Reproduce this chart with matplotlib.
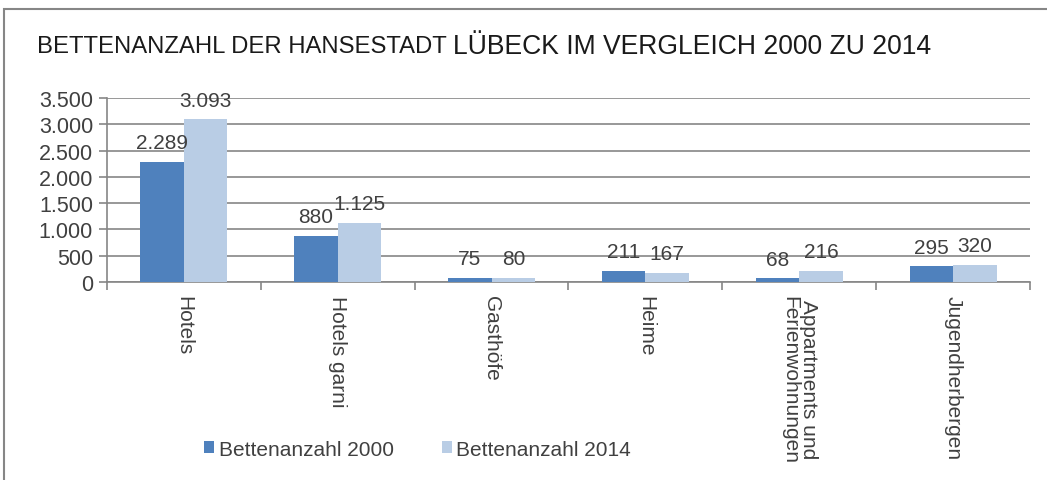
import matplotlib.pyplot as plt
import matplotlib.patches as mpatches
import numpy as np

# data
categories = ["Hotels", "Hotels garni", "Gasthöfe", "Heime",
              "Appartments und\nFerienwohnungen", "Jugendherbergen"]
beds_2000 = [2289, 880, 75, 211, 68, 295]
beds_2014 = [3093, 1125, 80, 167, 216, 320]
series_names = ["Bettenanzahl 2000", "Bettenanzahl 2014"]
yticks = [0, 500, 1000, 1500, 2000, 2500, 3000, 3500]

c2000 = "#4F81BD"
c2014 = "#B9CDE5"
grid_col = "#868686"
txt_col = "#404040"

plt.rcParams['font.family'] = ['Liberation Sans', 'DejaVu Sans']


def de_fmt(v):
    return f"{v:,}".replace(",", ".")


fig = plt.figure(figsize=(10.47, 4.81), dpi=100)

# outer chart frame (cut off at right and bottom like the screenshot)
frame = mpatches.Rectangle((4 / 1047, -0.2), 1.2, 1.2 - 10 / 481,
                           transform=fig.transFigure, fill=False,
                           edgecolor=grid_col, linewidth=1.5, clip_on=False)
fig.patches.append(frame)

ax = fig.add_axes([107 / 1047, 1 - 283 / 481, (1030 - 107) / 1047, (283 - 99) / 481])

x = np.arange(len(categories))
w = 0.283
bars1 = ax.bar(x - w / 2, beds_2000, w, color=c2000, label=series_names[0], zorder=3)
bars2 = ax.bar(x + w / 2, beds_2014, w, color=c2014, label=series_names[1], zorder=3)

for bars, vals in [(bars1, beds_2000), (bars2, beds_2014)]:
    for b, v in zip(bars, vals):
        ax.annotate(de_fmt(v), (b.get_x() + b.get_width() / 2, v),
                    xytext=(0, 7), textcoords="offset points",
                    ha="center", va="bottom", fontsize=15, color=txt_col, zorder=4)

ax.set_xlim(-0.5, len(categories) - 0.5)
ax.set_ylim(0, 3500)
ax.set_yticks(yticks)
ax.set_yticklabels([de_fmt(v) for v in yticks], fontsize=15.5, color=txt_col)
ax.yaxis.grid(True, color=grid_col, linewidth=1.2, zorder=0)
ax.set_axisbelow(True)

# category boundaries as ticks, labels placed manually
ax.set_xticks(np.arange(len(categories) + 1) - 0.5)
ax.set_xticklabels([])
ax.tick_params(axis="x", length=6, color=grid_col, width=1.2)
ax.tick_params(axis="y", length=6, color=grid_col, width=1.2, pad=4)
for i, c in enumerate(categories):
    ax.text(i, -0.07, c, transform=ax.get_xaxis_transform(), rotation=270,
            ha="center", va="top", fontsize=15, color=txt_col, linespacing=1.0)

for s in ["top", "right"]:
    ax.spines[s].set_visible(False)
for s in ["left", "bottom"]:
    ax.spines[s].set_color(grid_col)
    ax.spines[s].set_linewidth(1.2)

# title with two font sizes
t1 = fig.text(37 / 1047, 1 - 47 / 481, "BETTENANZAHL DER HANSESTADT ",
              fontsize=17.2, color="#1a1a1a", va="center", ha="left")
fig.canvas.draw()
bb = t1.get_window_extent(renderer=fig.canvas.get_renderer())
fig.text(bb.x1 / fig.bbox.width, 1 - 47 / 481, "LÜBECK IM VERGLEICH 2000 ZU 2014",
         fontsize=19.1, color="#1a1a1a", va="center", ha="left")

fig.legend(handles=[bars1, bars2], labels=series_names, loc="center left",
           bbox_to_anchor=(204 / 1047, 1 - 450 / 481), ncol=2, frameon=False,
           fontsize=15, handlelength=0.5, handleheight=0.5,
           handletextpad=0.2, columnspacing=2.3, borderpad=0, borderaxespad=0,
           labelcolor=txt_col)

fig.savefig("out.png", dpi=100)
